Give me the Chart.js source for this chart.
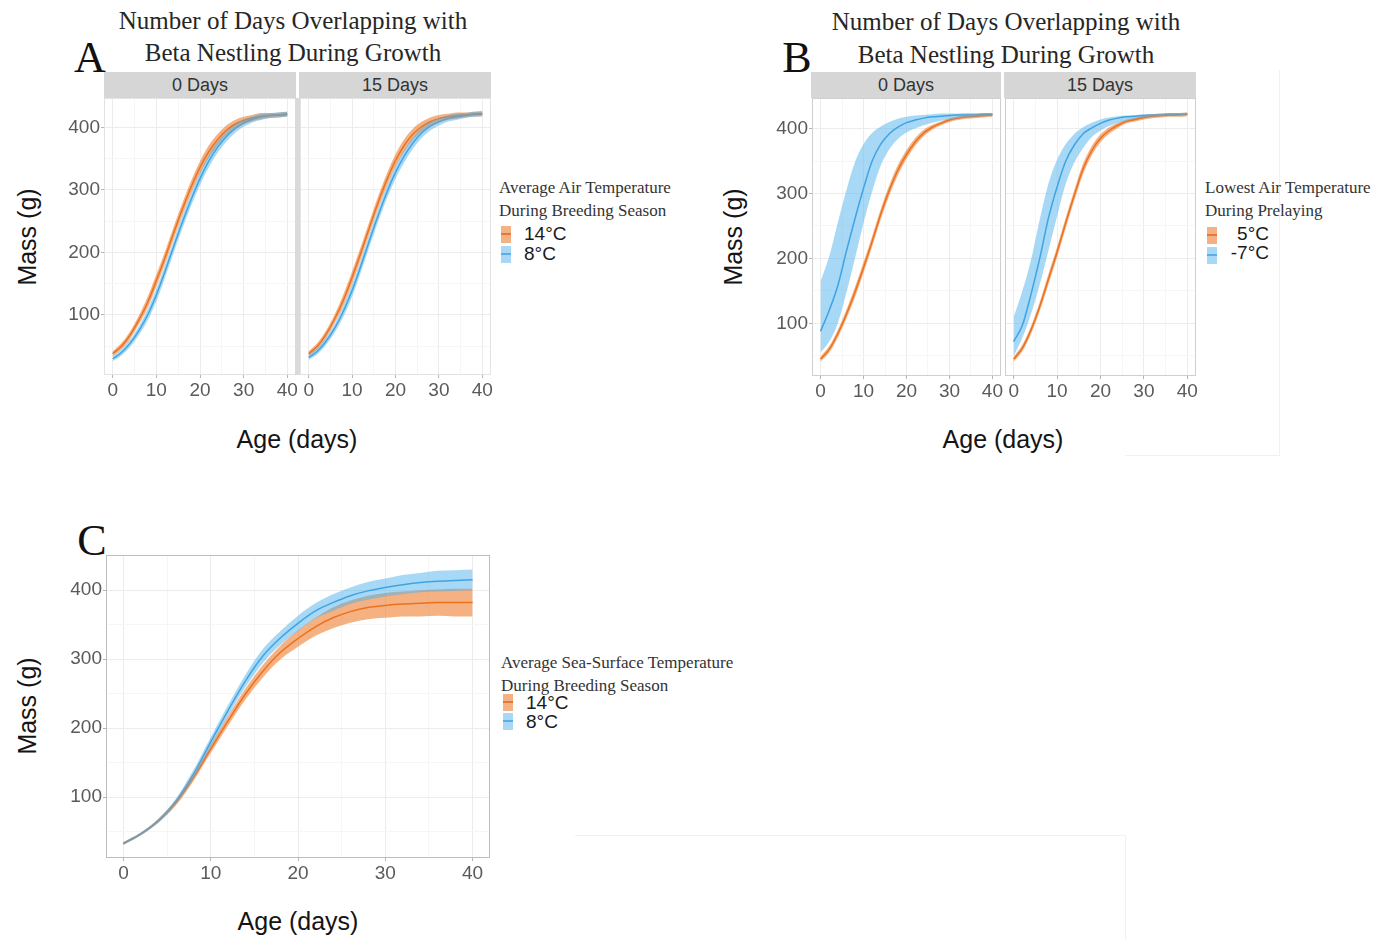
<!DOCTYPE html>
<html>
<head>
<meta charset="utf-8">
<script src="https://cdn.jsdelivr.net/npm/chart.js@4.4.1/dist/chart.umd.min.js"></script>
<style>
  body { margin: 0; background: #fff; width: 1393px; height: 940px; position: relative; overflow: hidden;
         font-family: "Liberation Sans", Arial, Helvetica, sans-serif; color: #1a1a1a; }
  canvas { position: absolute; }
  .t { position: absolute; white-space: nowrap; }
  .c { transform: translate(-50%, -50%); }
  .serif { font-family: "Liberation Serif", "Times New Roman", serif; }
  .title { font-size: 25px; color: #262626; }
  .letter { font-size: 44px; color: #111; }
  .axis { font-size: 25px; color: #141414; }
  .rot { transform: translate(-50%, -50%) rotate(-90deg); }
  .strip { position: absolute; top: 72px; height: 26px; background: #d6d6d6; font-size: 18px; color: #333;
           display: flex; align-items: center; justify-content: center; }
  .legtitle { font-size: 17px; color: #333; line-height: 23px; }
  .leglab { font-size: 19px; color: #1a1a1a; transform: translateY(-50%); }
  .key { position: absolute; width: 10px; height: 17px; }
  .key i { position: absolute; left: 0; right: 0; top: 7px; height: 2px; }
  .faint { position: absolute; background: #f1f1f1; }
</style>
</head>
<body>

<!-- panel A -->
<div class="t c serif letter" style="left:90px; top:57px;">A</div>
<div class="t c serif title" style="left:293px; top:21px;">Number of Days Overlapping with</div>
<div class="t c serif title" style="left:293px; top:53px;">Beta Nestling During Growth</div>
<div class="strip" id="stripA0" style="left:104px; width:192px;"></div>
<div class="strip" id="stripA15" style="left:299px; width:192px;"></div>
<div class="t axis rot" style="left:27px; top:237px;">Mass (g)</div>
<div class="t c axis" style="left:297px; top:439px;">Age (days)</div>

<!-- panel B -->
<div class="t c serif letter" style="left:797px; top:57px;">B</div>
<div class="t c serif title" style="left:1006px; top:22px;">Number of Days Overlapping with</div>
<div class="t c serif title" style="left:1006px; top:55px;">Beta Nestling During Growth</div>
<div class="strip" id="stripB0" style="left:811px; width:190px;"></div>
<div class="strip" id="stripB15" style="left:1004px; width:192px;"></div>
<div class="t axis rot" style="left:733px; top:237px;">Mass (g)</div>
<div class="t c axis" style="left:1003px; top:439px;">Age (days)</div>

<!-- panel C -->
<div class="t c serif letter" style="left:92px; top:540px;">C</div>
<div class="t axis rot" style="left:27px; top:706px;">Mass (g)</div>
<div class="t c axis" style="left:298px; top:921px;">Age (days)</div>

<!-- light scan edges around the panels -->
<div class="faint" style="left:1279px; top:70px; width:1px; height:386px;"></div>
<div class="faint" style="left:1125px; top:455px; width:155px; height:1px;"></div>
<div class="faint" style="left:575px; top:835px; width:550px; height:1px;"></div>
<div class="faint" style="left:1125px; top:835px; width:1px; height:105px;"></div>

<!-- legends -->
<div id="legA"></div>
<div id="legB"></div>
<div id="legC"></div>

<script>
// ---- data: predicted nestling mass (g) by age (days) ----
const ages = [0, 2, 4, 6, 8, 10, 12, 14, 16, 18, 20, 22, 24, 26, 28, 30, 32, 34, 36, 38, 40];
const xTicks = [0, 10, 20, 30, 40];
const xMinorTicks = [5, 15, 25, 35];
const yTicks = [100, 200, 300, 400];
const yMinorTicks = [50, 150, 250, 350];
const facetLabels = ['0 Days', '15 Days'];

// A: average air temperature during breeding season, 0 days overlap
const a0Warm   = [38, 50, 68, 92, 120, 155, 192, 232, 270, 305, 336, 361, 380, 395, 405, 411, 415, 418, 419, 420, 421];
const a0WarmLo = [34, 45, 62, 85, 111, 145, 182, 222, 260, 295, 326, 351, 371, 387, 398, 405, 410, 413, 415, 416, 417];
const a0WarmHi = [42, 55, 74, 99, 129, 165, 202, 242, 280, 315, 346, 371, 389, 403, 412, 417, 420, 423, 423, 424, 425];
const a0Cool   = [30, 40, 55, 75, 100, 132, 170, 210, 249, 285, 318, 346, 368, 385, 398, 407, 413, 417, 419, 420, 421];
const a0CoolLo = [26, 35, 49, 68, 91, 122, 160, 200, 239, 275, 308, 336, 359, 377, 391, 401, 408, 412, 415, 416, 417];
const a0CoolHi = [34, 45, 61, 82, 109, 142, 180, 220, 259, 295, 328, 356, 377, 393, 405, 413, 418, 422, 423, 424, 425];
// A: 15 days overlap
const a15Warm   = [38, 50, 69, 94, 124, 160, 199, 240, 280, 316, 347, 371, 389, 401, 409, 414, 417, 419, 420, 421, 422];
const a15WarmLo = [34, 45, 63, 87, 115, 150, 189, 230, 270, 306, 337, 361, 380, 393, 402, 408, 412, 414, 416, 417, 418];
const a15WarmHi = [42, 55, 75, 101, 133, 170, 209, 250, 290, 326, 357, 381, 398, 409, 416, 420, 422, 424, 424, 425, 426];
const a15Cool   = [32, 42, 58, 79, 106, 139, 178, 219, 259, 296, 328, 354, 375, 391, 402, 409, 414, 417, 419, 421, 422];
const a15CoolLo = [28, 37, 52, 72, 97, 129, 168, 209, 249, 286, 318, 344, 366, 383, 395, 403, 409, 412, 415, 417, 418];
const a15CoolHi = [36, 47, 64, 86, 115, 149, 188, 229, 269, 306, 338, 364, 384, 399, 409, 415, 419, 422, 423, 425, 426];

// B: lowest air temperature during prelaying, 0 days overlap
const b0Warm   = [45, 60, 84, 114, 148, 186, 226, 268, 305, 336, 360, 379, 393, 402, 408, 413, 416, 418, 419, 420, 421];
const b0WarmLo = [41, 55, 78, 107, 140, 178, 218, 260, 297, 328, 353, 373, 388, 398, 405, 410, 413, 415, 416, 417, 418];
const b0WarmHi = [49, 65, 90, 121, 156, 194, 234, 276, 313, 344, 367, 385, 398, 406, 411, 416, 419, 421, 422, 423, 424];
const b0Cold   = [88, 120, 158, 211, 261, 308, 350, 376, 392, 402, 409, 413, 416, 418, 419, 420, 421, 421, 421, 422, 422];
const b0ColdLo = [55, 72, 100, 147, 200, 255, 303, 343, 368, 384, 394, 400, 405, 409, 412, 414, 416, 417, 418, 419, 420];
const b0ColdHi = [165, 203, 255, 305, 348, 376, 393, 403, 410, 415, 418, 420, 421, 422, 423, 423, 423, 424, 424, 424, 424];
// B: 15 days overlap
const b15Warm   = [45, 62, 90, 126, 168, 210, 255, 298, 338, 366, 385, 397, 405, 411, 414, 417, 419, 420, 421, 421, 422];
const b15WarmLo = [41, 57, 84, 119, 160, 202, 247, 290, 330, 359, 379, 392, 401, 408, 411, 414, 416, 417, 418, 418, 419];
const b15WarmHi = [49, 67, 96, 133, 176, 218, 263, 306, 346, 373, 391, 402, 409, 414, 417, 420, 422, 423, 424, 424, 425];
const b15Cold   = [72, 97, 145, 200, 262, 310, 350, 375, 392, 401, 408, 413, 416, 418, 419, 420, 421, 421, 422, 422, 422];
const b15ColdLo = [50, 78, 115, 160, 212, 265, 315, 348, 370, 387, 397, 404, 409, 412, 415, 417, 418, 419, 420, 421, 421];
const b15ColdHi = [110, 150, 198, 260, 315, 352, 376, 392, 402, 409, 414, 417, 419, 420, 421, 422, 422, 423, 423, 423, 423];

// C: average sea-surface temperature during breeding season
const cWarm   = [33, 47, 66, 92, 128, 170, 211, 250, 283, 310, 330, 347, 360, 369, 375, 378, 380, 381, 382, 382, 382];
const cWarmLo = [31, 45, 63, 88, 123, 164, 204, 242, 274, 300, 318, 334, 345, 353, 358, 360, 362, 362, 363, 362, 362];
const cWarmHi = [35, 49, 69, 96, 133, 176, 218, 258, 292, 320, 342, 360, 375, 385, 392, 396, 398, 400, 401, 402, 402];
const cCool   = [33, 47, 66, 94, 133, 180, 226, 269, 305, 331, 352, 370, 382, 392, 399, 404, 408, 411, 413, 414, 415];
const cCoolLo = [31, 45, 63, 90, 127, 173, 218, 260, 295, 321, 341, 359, 370, 380, 386, 391, 394, 397, 398, 399, 400];
const cCoolHi = [35, 49, 69, 98, 139, 187, 234, 278, 315, 341, 363, 381, 394, 404, 412, 417, 422, 425, 428, 429, 430];

// legend text
const legendATitle = ['Average Air Temperature', 'During Breeding Season'];
const legendALabels = ['14°C', '8°C'];
const legendBTitle = ['Lowest Air Temperature', 'During Prelaying'];
const legendBLabels = ['5°C', '-7°C'];
const legendCTitle = ['Average Sea-Surface Temperature', 'During Breeding Season'];
const legendCLabels = ['14°C', '8°C'];

// ---- styling ----
const FONT = '"Liberation Sans", Arial, Helvetica, sans-serif';
const warmBand = 'rgba(238,125,45,0.6)';
const warmLine = '#e8600c';
const coolBand = 'rgba(80,178,235,0.5)';
const coolLine = '#2f95dc';
const warmKey = '#f4b183';
const coolKey = '#a8d8f5';
const warmKeyLine = '#e07a3a';
const coolKeyLine = '#5aaee6';

Chart.defaults.font.family = FONT;

const framePlugin = {
  id: 'frame',
  afterDraw(chart, args, opts) {
    const { ctx, chartArea: a } = chart;
    ctx.save();
    ctx.strokeStyle = opts.color || '#cfcfcf';
    ctx.lineWidth = 1;
    ctx.strokeRect(a.left + 0.5, a.top + 0.5, a.right - a.left - 1, a.bottom - a.top - 1);
    ctx.restore();
  }
};

function pts(ys) { return ages.map((a, i) => ({ x: a, y: ys[i] })); }

const edge = { borderWidth: 0, borderColor: 'rgba(0,0,0,0)', pointRadius: 0, cubicInterpolationMode: 'monotone' };
function lineSet(ys, color) {
  return { data: pts(ys), borderColor: color, borderWidth: 1.5, pointRadius: 0, fill: false, cubicInterpolationMode: 'monotone' };
}

function facet(box, yMin, yMax, warm, cool, frameColor, showY) {
  const padL = 60, padT = 16, padR = 16, padB = 36;
  const cv = document.createElement('canvas');
  cv.width = box.r - box.l + padL + padR;
  cv.height = box.b - box.t + padT + padB;
  cv.style.left = (box.l - padL) + 'px';
  cv.style.top = (box.t - padT) + 'px';
  document.body.appendChild(cv);

  const tickFont = { size: 19, family: FONT };
  new Chart(cv, {
    type: 'line',
    data: {
      // ribbons sit over the fitted lines; datasets listed first are painted last
      datasets: [
        Object.assign({ data: pts(cool.hi), fill: '+1', backgroundColor: cool.band }, edge),
        Object.assign({ data: pts(cool.lo), fill: false }, edge),
        Object.assign({ data: pts(warm.hi), fill: '+1', backgroundColor: warm.band }, edge),
        Object.assign({ data: pts(warm.lo), fill: false }, edge),
        lineSet(cool.mean, coolLine),
        lineSet(warm.mean, warmLine)
      ]
    },
    options: {
      responsive: false,
      animation: false,
      events: [],
      layout: { autoPadding: false, padding: { left: 0, top: padT, right: padR, bottom: 0 } },
      plugins: { legend: { display: false }, tooltip: { enabled: false }, frame: { color: frameColor } },
      scales: {
        x: {
          type: 'linear', min: -2, max: 42,
          afterBuildTicks: s => { s.ticks = xTicks.concat(xMinorTicks).sort((p, q) => p - q).map(v => ({ value: v })); },
          afterFit: s => { s.height = padB; },
          ticks: { autoSkip: false, maxRotation: 0, padding: 1, color: '#5a5a5a', font: tickFont,
                   callback: v => xTicks.includes(v) ? String(v) : '' },
          grid: { lineWidth: 1, tickLength: 3,
                  color: c => xTicks.includes(c.tick.value) ? '#ececec' : '#f6f6f6',
                  tickColor: c => xTicks.includes(c.tick.value) ? '#b5b5b5' : 'rgba(0,0,0,0)' },
          border: { display: false }
        },
        y: {
          type: 'linear', min: yMin, max: yMax,
          afterBuildTicks: s => { s.ticks = yTicks.concat(yMinorTicks).sort((p, q) => p - q).map(v => ({ value: v })); },
          afterFit: s => { s.width = padL; },
          ticks: { autoSkip: false, padding: 1, color: '#5a5a5a', font: tickFont,
                   callback: v => (showY && yTicks.includes(v)) ? String(v) : '' },
          grid: { lineWidth: 1, tickLength: 3,
                  color: c => yTicks.includes(c.tick.value) ? '#ececec' : '#f6f6f6',
                  tickColor: c => (showY && yTicks.includes(c.tick.value)) ? '#b5b5b5' : 'rgba(0,0,0,0)' },
          border: { display: false }
        }
      }
    },
    plugins: [framePlugin]
  });
}

const W = (mean, lo, hi) => ({ mean, lo, hi, band: warmBand });
const K = (mean, lo, hi) => ({ mean, lo, hi, band: coolBand });

// panel A facets
facet({ l: 104, t: 98, r: 296, b: 375 }, 4, 447, W(a0Warm, a0WarmLo, a0WarmHi), K(a0Cool, a0CoolLo, a0CoolHi), '#e3e3e3', true);
facet({ l: 300, t: 98, r: 491, b: 375 }, 4, 447, W(a15Warm, a15WarmLo, a15WarmHi), K(a15Cool, a15CoolLo, a15CoolHi), '#e3e3e3', false);
// panel B facets
facet({ l: 812, t: 98, r: 1001, b: 376 }, 19, 447, W(b0Warm, b0WarmLo, b0WarmHi), K(b0Cold, b0ColdLo, b0ColdHi), '#cfcfcf', true);
facet({ l: 1005, t: 98, r: 1196, b: 376 }, 19, 447, W(b15Warm, b15WarmLo, b15WarmHi), K(b15Cold, b15ColdLo, b15ColdHi), '#cfcfcf', false);
// panel C
facet({ l: 106, t: 555, r: 490, b: 858 }, 12, 451, W(cWarm, cWarmLo, cWarmHi), K(cCool, cCoolLo, cCoolHi), '#bdbdbd', true);

// facet strips
document.getElementById('stripA0').textContent = facetLabels[0];
document.getElementById('stripA15').textContent = facetLabels[1];
document.getElementById('stripB0').textContent = facetLabels[0];
document.getElementById('stripB15').textContent = facetLabels[1];

// gutter between the two A facets
const gut = document.createElement('div');
gut.style.cssText = 'position:absolute;left:295px;top:98px;width:5px;height:277px;background:#dadada;';
document.body.appendChild(gut);

// legends
function legend(el, x, titleY, title, labels, keyTops, labelYs, labelX, alignRight) {
  const host = document.getElementById(el);
  title.forEach((line, i) => {
    const d = document.createElement('div');
    d.className = 't serif legtitle';
    d.style.left = x + 'px';
    d.style.top = (titleY + i * 23 - 11.5) + 'px';
    d.textContent = line;
    host.appendChild(d);
  });
  const keyCols = [[warmKey, warmKeyLine], [coolKey, coolKeyLine]];
  labels.forEach((lab, i) => {
    const k = document.createElement('div');
    k.className = 'key';
    k.style.left = (x + 2) + 'px';
    k.style.top = keyTops[i] + 'px';
    k.style.background = keyCols[i][0];
    const ln = document.createElement('i');
    ln.style.background = keyCols[i][1];
    k.appendChild(ln);
    host.appendChild(k);
    const t = document.createElement('div');
    t.className = 't leglab';
    t.style.top = labelYs[i] + 'px';
    if (alignRight) { t.style.right = (1393 - labelX) + 'px'; } else { t.style.left = labelX + 'px'; }
    t.textContent = lab;
    host.appendChild(t);
  });
}
legend('legA', 499, 187, legendATitle, legendALabels, [226, 246], [234, 254], 524, false);
legend('legB', 1205, 187, legendBTitle, legendBLabels, [227, 247], [234, 253], 1269, true);
legend('legC', 501, 662, legendCTitle, legendCLabels, [694, 713], [703, 722], 526, false);
</script>
</body>
</html>
